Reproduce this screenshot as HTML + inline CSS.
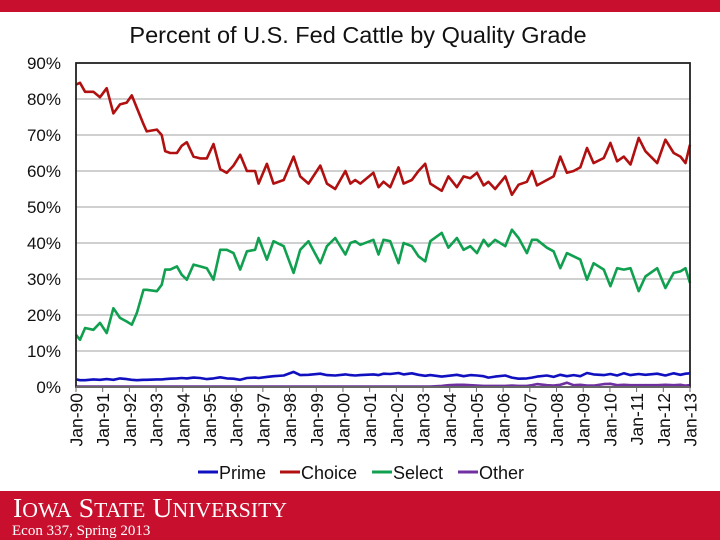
<!DOCTYPE html>
<html><head><meta charset="utf-8"><style>
html,body{margin:0;padding:0;background:#fff;}
svg{display:block;}
</style></head><body>
<svg id="chart" width="720" height="540" viewBox="0 0 720 540" xmlns="http://www.w3.org/2000/svg" font-family="Liberation Sans, Arial, sans-serif">
<rect x="0" y="0" width="720" height="12" fill="#C8102E"/>
<text x="358" y="43" font-size="23.5" text-anchor="middle" fill="#111">Percent of U.S. Fed Cattle by Quality Grade</text>
<g id="grid"></g><g id="series"></g><g id="axes"></g>
<g font-size="18" fill="#111">
<line x1="198" y1="472" x2="218" y2="472" stroke="#1010C0" stroke-width="3"/>
<text x="219" y="479">Prime</text>
<line x1="280" y1="472" x2="300" y2="472" stroke="#B01010" stroke-width="3"/>
<text x="301" y="479">Choice</text>
<line x1="372" y1="472" x2="392" y2="472" stroke="#10A050" stroke-width="3"/>
<text x="393" y="479">Select</text>
<line x1="458" y1="472" x2="478" y2="472" stroke="#7030A0" stroke-width="3"/>
<text x="479" y="479">Other</text>
</g>
<rect x="0" y="491" width="720" height="49" fill="#C8102E"/>
<text x="13" y="517" font-family="Liberation Serif, serif" font-size="27" fill="#fff" textLength="274" lengthAdjust="spacingAndGlyphs">I<tspan font-size="21">OWA</tspan> S<tspan font-size="21">TATE</tspan> U<tspan font-size="21">NIVERSITY</tspan></text>
<text x="12" y="535" font-family="Liberation Serif, serif" font-size="15" fill="#fff">Econ 337, Spring 2013</text>
</svg>
<script>
const years = [0,0.15,0.34,0.65,0.9,1.15,1.4,1.65,1.9,2.09,2.28,2.53,2.65,3.03,3.21,3.34,3.53,3.78,3.96,4.15,4.4,4.65,4.9,5.15,5.4,5.65,5.9,6.15,6.4,6.71,6.84,7.15,7.4,7.78,8.15,8.4,8.71,9.15,9.4,9.71,10.09,10.28,10.46,10.65,11.14,11.33,11.52,11.77,12.08,12.27,12.58,12.83,13.08,13.27,13.7,13.95,14.27,14.52,14.77,15.02,15.27,15.45,15.7,16.08,16.33,16.58,16.89,17.08,17.27,17.64,17.89,18.14,18.39,18.64,18.89,19.14,19.39,19.77,20.02,20.27,20.52,20.77,21.08,21.33,21.77,22.08,22.39,22.64,22.83,23.0];
const choice = [84,84.5,82,82,80.5,83,76,78.5,79,81,77.5,73,71,71.5,70,65.5,65,65,67,68,64,63.5,63.5,67.5,60.5,59.5,61.5,64.5,60,60,56.5,62,56.5,57.5,64,58.5,56.5,61.5,56.5,55,60,56.5,57.5,56.5,59.5,55.5,57,55.5,61,56.5,57.5,60,62,56.5,54.5,58.5,55.5,58.5,58,59.5,56,57,55,58.5,53.4,56.2,57,60,56,57.5,58.5,64,59.5,60,61,66.4,62.2,63.6,67.8,62.7,64,61.8,69.2,65.5,62.2,68.7,65,64,62.2,67.3];
const select = [14.5,13.1,16.4,15.9,17.8,15,21.9,19.2,18.2,17.3,20.6,27,27,26.6,28.4,32.6,32.6,33.5,31.2,29.8,34,33.5,33,29.8,38.1,38.1,37.2,32.6,37.7,38.1,41.4,35.4,40.5,39.1,31.7,38.1,40.5,34.4,39.1,41.4,36.8,40,40.5,39.5,40.9,36.8,40.9,40.5,34.4,40,39.1,36.3,34.9,40.5,42.8,38.7,41.4,38.1,39.1,37.2,40.9,39.1,40.9,39.1,43.7,41.4,37.2,40.9,40.9,38.7,37.7,33,37.2,36.3,35.4,29.8,34.4,32.6,28,33,32.6,33,26.6,30.7,33,27.5,31.7,32.1,33,28.9];
const prime = [2.1,1.9,1.9,2.1,2.0,2.2,2.0,2.4,2.2,2.0,1.9,2.0,2.0,2.1,2.1,2.2,2.3,2.4,2.5,2.4,2.6,2.5,2.2,2.4,2.7,2.4,2.3,2.0,2.5,2.6,2.5,2.8,3.0,3.2,4.2,3.3,3.4,3.7,3.3,3.2,3.5,3.3,3.2,3.3,3.5,3.3,3.7,3.6,3.9,3.5,3.8,3.4,3.1,3.3,2.9,3.1,3.4,3.0,3.3,3.2,3.0,2.6,2.9,3.2,2.6,2.3,2.4,2.6,2.9,3.2,2.8,3.4,3.0,3.3,3.0,3.9,3.5,3.3,3.6,3.2,3.8,3.3,3.6,3.4,3.7,3.2,3.8,3.4,3.7,3.8];
const other = [0.1,0.1,0.1,0.1,0.1,0.1,0.1,0.1,0.1,0.1,0.1,0.1,0.1,0.1,0.1,0.1,0.1,0.1,0.1,0.1,0.1,0.1,0.1,0.1,0.1,0.1,0.1,0.1,0.1,0.1,0.1,0.1,0.1,0.1,0.1,0.1,0.1,0.1,0.1,0.1,0.1,0.1,0.1,0.1,0.1,0.1,0.1,0.1,0.1,0.1,0.1,0.1,0.1,0.1,0.3,0.5,0.6,0.6,0.5,0.4,0.3,0.3,0.3,0.3,0.4,0.3,0.3,0.5,0.8,0.5,0.4,0.6,1.2,0.5,0.6,0.4,0.4,0.8,0.9,0.5,0.6,0.5,0.5,0.5,0.5,0.6,0.5,0.6,0.4,0.5];
const yTicks = [0,10,20,30,40,50,60,70,80,90];
const xTickLabels = ["Jan-90","Jan-91","Jan-92","Jan-93","Jan-94","Jan-95","Jan-96","Jan-97","Jan-98","Jan-99","Jan-00","Jan-01","Jan-02","Jan-03","Jan-04","Jan-05","Jan-06","Jan-07","Jan-08","Jan-09","Jan-10","Jan-11","Jan-12","Jan-13"];

const NS="http://www.w3.org/2000/svg";
const L=76,R=690,T=63,B=387;
const xs=t=>L+(R-L)*t/23;
const ys=v=>B-(B-T)*v/90;
function mk(tag,attrs,parent){const e=document.createElementNS(NS,tag);for(const k in attrs)e.setAttribute(k,attrs[k]);parent.appendChild(e);return e;}
const grid=document.getElementById('grid'),ser=document.getElementById('series'),axes=document.getElementById('axes');
yTicks.forEach(v=>{
  if(v>0&&v<90){const g=mk('line',{x1:L,x2:R,y1:ys(v),y2:ys(v),stroke:'#a0a0a0','stroke-width':1},grid);
  
  }
  const t=mk('text',{x:61,y:ys(v)+6,'font-size':17,'text-anchor':'end',fill:'#111'},axes);
  
  
  t.textContent=v+'%';
});
function line(vals,color,name){
  const d=vals.map((v,i)=>(i?'L':'M')+xs(years[i]).toFixed(1)+','+ys(v).toFixed(1)).join(' ');
  const p=mk('path',{d:d,fill:'none',stroke:color,'stroke-width':2.6,'stroke-linejoin':'round'},ser);
  
  
}
line(other,'#7030A0','other-line');
line(prime,'#1010C0','prime-line');
line(select,'#10A050','select-line');
line(choice,'#B01010','choice-line');
const frame=mk('rect',{x:L,y:T,width:R-L,height:B-T,fill:'none',stroke:'#222','stroke-width':1.8},axes);


const xa=mk('line',{x1:L,x2:R,y1:B,y2:B,stroke:'#666','stroke-width':2},axes);


xTickLabels.forEach((lab,i)=>{
  const x=xs(i);
  const tk=mk('line',{x1:x,x2:x,y1:B,y2:B+5,stroke:'#666','stroke-width':1},axes);
  
  
  const t=mk('text',{x:0,y:0,'font-size':17.5,'text-anchor':'end',fill:'#111',transform:'translate('+(x+6.5)+','+(B+6)+') rotate(-90)'},axes);
  
  
  t.textContent=lab;
});
</script>
</body></html>
